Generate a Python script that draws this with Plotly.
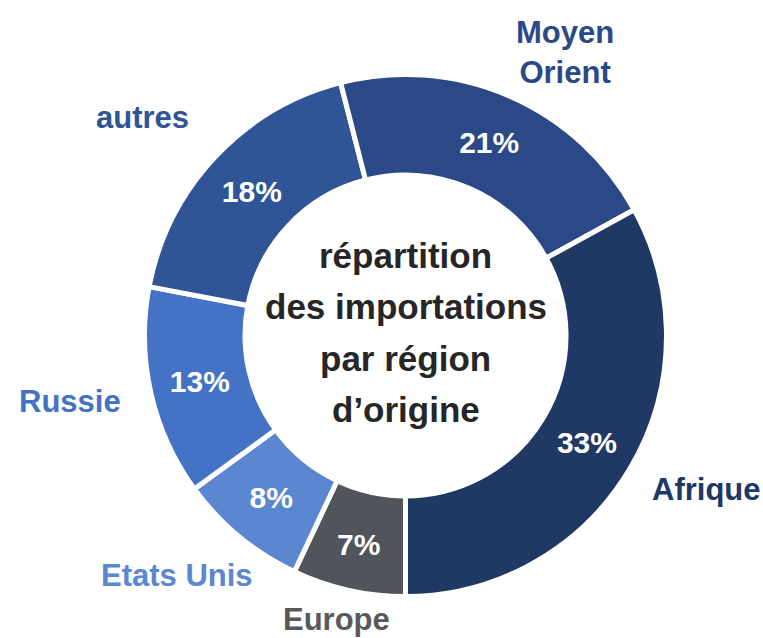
import math
import plotly.graph_objects as go

# Data (clockwise from 6 o'clock)
regions = ["Europe", "Etats Unis", "Russie", "autres", "Moyen<br>Orient", "Afrique"]
shares = [7, 8, 13, 18, 21, 33]
center_lines = ["répartition", "des importations", "par région", "d’origine"]

# Styles / layout constants
slice_colors = ["#50545b", "#5b87d0", "#4472c4", "#2f5597", "#2a4986", "#203864"]
label_colors = ["#595959", "#5b87d0", "#4472c4", "#2f5597", "#2a4986", "#203864"]
label_radius = [1.12, 1.27, 1.31, 1.31, 1.245, 1.295]
label_angle_shift = [1, 4, 1.5, -3.5, 6, -3.5]

FONT = "Liberation Sans, Arial, sans-serif"

W, H = 763, 638
cx, cy, R = 405.5, 335.5, 261
dom_x = [(cx - R) / W, (cx + R) / W]
dom_y = [(H - cy - R) / H, (H - cy + R) / H]

fig = go.Figure(go.Pie(
    labels=[r.replace("<br>", " ") for r in regions],
    values=shares,
    sort=False,
    direction="clockwise",
    rotation=180,
    hole=0.615,
    marker=dict(colors=slice_colors, line=dict(color="white", width=5)),
    texttemplate="%{percent:.0%}",
    textposition="inside",
    insidetextorientation="horizontal",
    textfont=dict(family=FONT, size=30, color="white", weight="bold"),
    showlegend=False,
    hoverinfo="label+percent",
    domain=dict(x=dom_x, y=dom_y),
))

annotations = []
line_gap = 51.5
n = len(center_lines)
for i, line in enumerate(center_lines):
    py = cy + (i - (n - 1) / 2) * line_gap - 3
    annotations.append(dict(
        text="<b>" + line + "</b>", x=cx / W, y=(H - py) / H,
        xref="paper", yref="paper", showarrow=False,
        font=dict(family=FONT, size=35, color="#262626"),
        xanchor="center", yanchor="middle",
    ))

total = sum(shares)
cum = 0
for name, v, col, rf, da in zip(regions, shares, label_colors, label_radius, label_angle_shift):
    mid = 180 + (cum + v / 2) / total * 360 + da  # degrees clockwise from 12 o'clock
    cum += v
    a = math.radians(mid)
    px = cx + rf * R * math.sin(a)
    py = cy - rf * R * math.cos(a)
    annotations.append(dict(
        text="<b>" + name + "</b>", x=px / W, y=(H - py) / H,
        xref="paper", yref="paper", showarrow=False,
        font=dict(family=FONT, size=31, color=col), align="center",
        xanchor="center", yanchor="middle",
    ))

fig.update_layout(
    width=W, height=H,
    margin=dict(l=0, r=0, t=0, b=0),
    paper_bgcolor="white", plot_bgcolor="white",
    annotations=annotations,
    uniformtext=dict(minsize=30, mode="show"),
)

fig.write_html(
    "out.html",
    config={"displayModeBar": False},
    post_script="document.body.style.margin='0';",
)
